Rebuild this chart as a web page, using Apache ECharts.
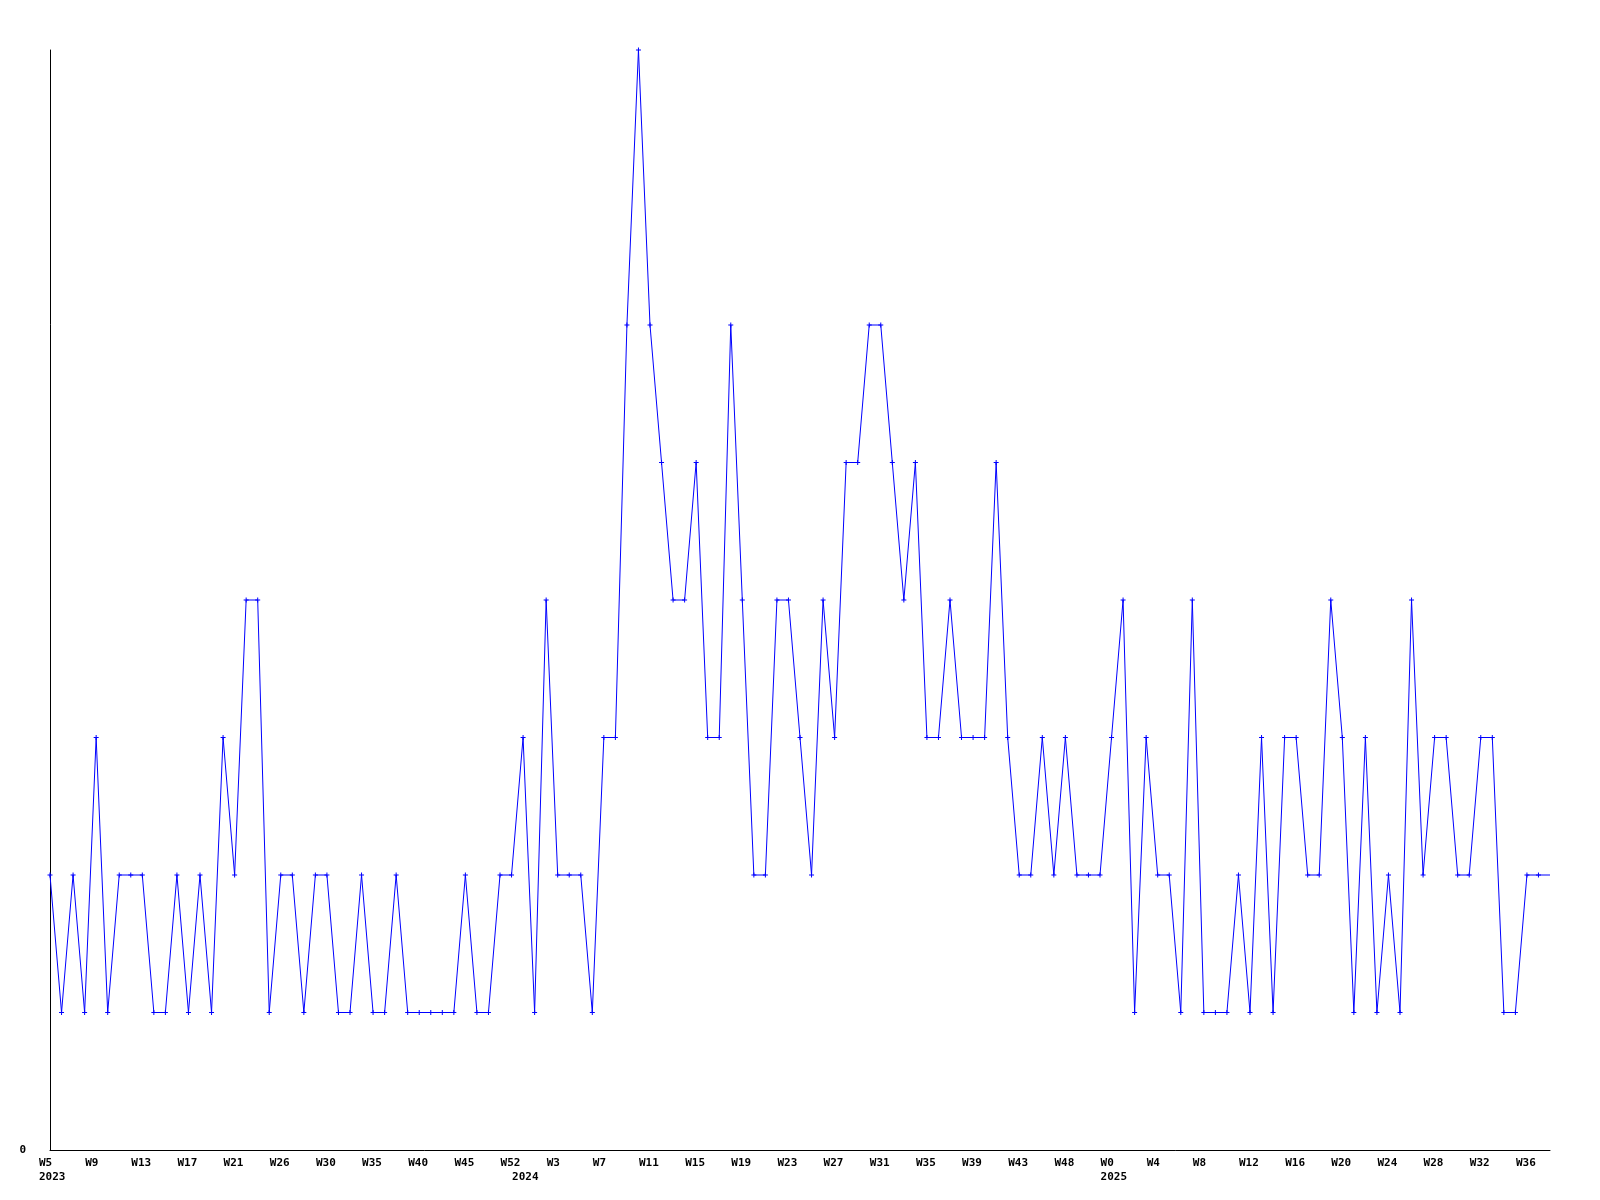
<!DOCTYPE html>
<html>
<head>
<meta charset="utf-8">
<script src="https://cdn.jsdelivr.net/npm/echarts@6/dist/echarts.min.js"></script>
<style>
  html, body { margin: 0; padding: 0; background: #ffffff; }
  #chart { width: 1600px; height: 1200px; }
</style>
</head>
<body>
<div id="chart"></div>
<script>
// Week categories (year-week), one per data point
const categories = [
  '2023-W5','2023-W6','2023-W7','2023-W8','2023-W9','2023-W10','2023-W11','2023-W12',
  '2023-W13','2023-W14','2023-W15','2023-W16','2023-W17','2023-W18','2023-W19','2023-W20',
  '2023-W21','2023-W22','2023-W23','2023-W24','2023-W26','2023-W27','2023-W28','2023-W29',
  '2023-W30','2023-W31','2023-W32','2023-W34','2023-W35','2023-W36','2023-W37','2023-W39',
  '2023-W40','2023-W41','2023-W42','2023-W44','2023-W45','2023-W46','2023-W48','2023-W50',
  '2023-W52','2024-W0','2024-W1','2024-W2','2024-W3','2024-W4','2024-W5','2024-W6',
  '2024-W7','2024-W8','2024-W9','2024-W10','2024-W11','2024-W12','2024-W13','2024-W14',
  '2024-W15','2024-W16','2024-W17','2024-W18','2024-W19','2024-W20','2024-W21','2024-W22',
  '2024-W23','2024-W24','2024-W25','2024-W26','2024-W27','2024-W28','2024-W29','2024-W30',
  '2024-W31','2024-W32','2024-W33','2024-W34','2024-W35','2024-W36','2024-W37','2024-W38',
  '2024-W39','2024-W40','2024-W41','2024-W42','2024-W43','2024-W44','2024-W45','2024-W47',
  '2024-W48','2024-W49','2024-W51','2024-W52','2025-W0','2025-W1','2025-W2','2025-W3',
  '2025-W4','2025-W5','2025-W6','2025-W7','2025-W8','2025-W9','2025-W10','2025-W11',
  '2025-W12','2025-W13','2025-W14','2025-W15','2025-W16','2025-W17','2025-W18','2025-W19',
  '2025-W20','2025-W21','2025-W22','2025-W23','2025-W24','2025-W25','2025-W26','2025-W27',
  '2025-W28','2025-W29','2025-W30','2025-W31','2025-W32','2025-W33','2025-W34','2025-W35',
  '2025-W36','2025-W37','2025-W38'
];

// Weekly counts
const counts = [
  2,1,2,1,3,1,2,2,2,1,
  1,2,1,2,1,3,2,4,4,1,
  2,2,1,2,2,1,1,2,1,1,
  2,1,1,1,1,1,2,1,1,2,
  2,3,1,4,2,2,2,1,3,3,
  6,8,6,5,4,4,5,3,3,6,
  4,2,2,4,4,3,2,4,3,5,
  5,6,6,5,4,5,3,3,4,3,
  3,3,5,3,2,2,3,2,3,2,
  2,2,3,4,1,3,2,2,1,4,
  1,1,1,2,1,3,1,3,3,2,
  2,4,3,1,3,1,2,1,4,2,
  3,3,2,2,3,3,1,1,2,2,
  2
];

const yMin = 0;
const yMax = 8;
const weekLabelEvery = 4;

const seriesData = counts.map((v, i) =>
  i === counts.length - 1 ? { value: v, symbol: 'none' } : v
);

function yearOf(i) { return categories[i].split('-')[0]; }
function isYearStart(i) { return i === 0 || yearOf(i) !== yearOf(i - 1); }
function isWeekTick(i) { return i % weekLabelEvery === 0; }

const FONT = '"DejaVu Sans Mono", "Liberation Mono", monospace';

const chart = echarts.init(document.getElementById('chart'), null, { renderer: 'canvas' });
chart.setOption({
  animation: false,
  backgroundColor: '#ffffff',
  grid: { left: 50, right: 50, top: 50, bottom: 50, containLabel: false },
  xAxis: {
    type: 'category',
    data: categories,
    boundaryGap: false,
    axisLine: { show: true, lineStyle: { color: '#000000', width: 1 } },
    axisTick: { show: false },
    splitLine: { show: false },
    axisLabel: {
      interval: function (index) { return isWeekTick(index) || isYearStart(index); },
      hideOverlap: false,
      margin: 6,
      align: 'center',
      color: '#000000',
      fontFamily: FONT,
      fontWeight: 'bold',
      fontSize: 11,
      lineHeight: 14,
      formatter: function (value, index) {
        const parts = value.split('-');
        const wk = isWeekTick(index) ? parts[1] : ' ';
        let s = '{a|' + wk + '}';
        if (isYearStart(index)) s += '\n{a|' + parts[0] + '}';
        return s;
      },
      rich: {
        a: {
          width: 22,
          height: 14,
          align: 'left',
          color: '#000000',
          fontFamily: FONT,
          fontWeight: 'bold',
          fontSize: 11,
          lineHeight: 14
        }
      }
    }
  },
  yAxis: {
    type: 'value',
    min: yMin,
    max: yMax,
    interval: 8,
    axisLine: { show: true, lineStyle: { color: '#000000', width: 1 } },
    axisTick: { show: false },
    splitLine: { show: false },
    axisLabel: {
      showMaxLabel: false,
      margin: 24,
      color: '#000000',
      fontFamily: FONT,
      fontWeight: 'bold',
      fontSize: 11
    }
  },
  series: [{
    type: 'line',
    data: seriesData,
    symbol: 'path://M0,2H2V0H3V2H5V3H3V5H2V3H0Z',
    symbolSize: 5,
    showAllSymbol: true,
    lineStyle: { color: '#0000ff', width: 1 },
    itemStyle: { color: '#0000ff' }
  }]
});
</script>
</body>
</html>
